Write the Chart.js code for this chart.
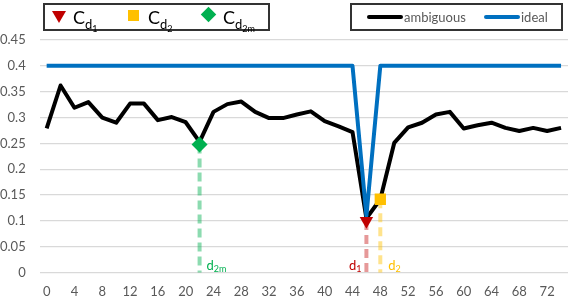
<!DOCTYPE html>
<html><head><meta charset="utf-8">
<script src="https://cdn.jsdelivr.net/npm/chart.js@4/dist/chart.umd.min.js"></script>
<style>
html,body{margin:0;padding:0;background:#fff;}
#wrap{position:relative;width:570px;height:296px;overflow:hidden;font-family:Lato,"Open Sans",sans-serif;}
canvas{position:absolute;left:0;top:0;}
.box{position:absolute;border:2px solid #333;background:#fff;box-sizing:border-box;}
.lg{position:absolute;white-space:nowrap;color:#000;}
.C{font-size:18px;line-height:18px;}
.C .s1{font-size:13px;vertical-align:-5px;}
.C .s2{font-size:9px;vertical-align:-3px;}
.amb{font-size:13px;color:#595959;line-height:14px;}
</style></head>
<body><div id="wrap">
<canvas id="c" width="570" height="296"></canvas>
<div class="box" style="left:43px;top:3px;width:227px;height:28px;">
  <div style="position:absolute;left:7px;top:6px;width:0;height:0;border-left:7px solid transparent;border-right:7px solid transparent;border-top:12px solid #c00000;"></div>
  <div class="lg C" style="left:28px;top:3px;">C<span class="s1">d<span class="s2">1</span></span></div>
  <div style="position:absolute;left:83px;top:5px;width:11px;height:11px;background:#ffc000;"></div>
  <div class="lg C" style="left:103px;top:3px;">C<span class="s1">d<span class="s2">2</span></span></div>
  <div style="position:absolute;left:158px;top:4px;width:11px;height:11px;background:#00b050;transform:rotate(45deg);"></div>
  <div class="lg C" style="left:178px;top:3px;">C<span class="s1">d<span class="s2">2m</span></span></div>
</div>
<div class="box" style="left:350px;top:3px;width:213px;height:28px;">
  <div style="position:absolute;left:15px;top:10px;width:36px;height:4px;background:#000;border-radius:2px;"></div>
  <div class="lg amb" style="left:52px;top:5px;">ambiguous</div>
  <div style="position:absolute;left:132px;top:10px;width:36px;height:4px;background:#0070c0;border-radius:2px;"></div>
  <div class="lg amb" style="left:169px;top:5px;">ideal</div>
</div>
</div>
<script>
const xCats = ['0','2','4','6','8','10','12','14','16','18','20','22','24','26','28','30','32','34','36','38','40','42','44','46','48','50','52','54','56','58','60','62','64','66','68','70','72','74'];
const ambiguous = [0.279,0.362,0.319,0.330,0.300,0.290,0.327,0.327,0.295,0.301,0.291,0.253,0.311,0.326,0.331,0.311,0.299,0.299,0.306,0.312,0.293,0.283,0.272,0.105,0.142,0.251,0.281,0.290,0.306,0.311,0.279,0.285,0.290,0.280,0.274,0.280,0.274,0.280];
const ideal = [0.4,0.4,0.4,0.4,0.4,0.4,0.4,0.4,0.4,0.4,0.4,0.4,0.4,0.4,0.4,0.4,0.4,0.4,0.4,0.4,0.4,0.4,0.4,0.11,0.4,0.4,0.4,0.4,0.4,0.4,0.4,0.4,0.4,0.4,0.4,0.4,0.4,0.4];
const d1Cat = '46', d1Val = 0.1;
const d2Cat = '48', d2Val = 0.142;
const d2mCat = '22', d2mVal = 0.248;
const yTicks = [0,0.05,0.1,0.15,0.2,0.25,0.3,0.35,0.4,0.45];

const font = "Lato, 'Open Sans', sans-serif";
const labelPlugin = {
  id:'dlabels',
  afterDatasetsDraw(chart){
    const ctx = chart.ctx, xs = chart.scales.x, ys = chart.scales.y;
    const base = ys.getPixelForValue(0) - 3;
    function lab(cat, sub, color, dx, alignRight){
      const x = xs.getPixelForValue(xs.getLabels().indexOf(cat));
      ctx.save();
      ctx.fillStyle = color; ctx.textBaseline='alphabetic';
      ctx.font = "13px " + font;
      const w1 = ctx.measureText('d').width;
      ctx.font = "9px " + font;
      const w2 = ctx.measureText(sub).width;
      let sx = alignRight ? x + dx - w1 - w2 : x + dx;
      ctx.font = "13px " + font; ctx.fillText('d', sx, base);
      ctx.font = "9px " + font; ctx.fillText(sub, sx + w1, base + 2);
      ctx.restore();
    }
    lab(d2mCat,'2m','#00b050',7,false);
    lab(d1Cat,'1','#c00000',-5,true);
    lab(d2Cat,'2','#ffc000',8,false);
  }
};
function single(cat,val){ return xCats.map(c => c===cat ? val : null); }

new Chart(document.getElementById('c'), {
  type:'line',
  data:{
    labels:xCats,
    datasets:[
      {label:'Cd1', data:single(d1Cat,d1Val), showLine:false, pointStyle:'triangle', rotation:180, pointRadius:7.8, backgroundColor:'#c00000', borderWidth:0, pointBorderWidth:0},
      {label:'Cd2', data:single(d2Cat,d2Val), showLine:false, pointStyle:'rect', pointRadius:8, backgroundColor:'#ffc000', borderWidth:0, pointBorderWidth:0},
      {label:'Cd2m', data:single(d2mCat,d2mVal), showLine:false, pointStyle:'rectRot', pointRadius:8, backgroundColor:'#00b050', borderWidth:0, pointBorderWidth:0},
      {label:'ideal', data:ideal, borderColor:'#0070c0', borderWidth:4, pointRadius:0, tension:0, borderJoinStyle:'round', borderCapStyle:'butt'},
      {label:'ambiguous', data:ambiguous, borderColor:'#000', borderWidth:4, pointRadius:0, tension:0, borderJoinStyle:'round', borderCapStyle:'butt'},
      {label:'d2mLine', data:[{x:d2mCat,y:d2mVal},{x:d2mCat,y:0}], borderColor:'rgba(0,176,80,0.45)', borderWidth:4, borderDash:[9,5], pointRadius:0},
      {label:'d1Line', data:[{x:d1Cat,y:d1Val},{x:d1Cat,y:0}], borderColor:'rgba(192,0,0,0.4)', borderWidth:4, borderDash:[9,5], pointRadius:0},
      {label:'d2Line', data:[{x:d2Cat,y:d2Val},{x:d2Cat,y:0}], borderColor:'rgba(255,192,0,0.45)', borderWidth:4, borderDash:[9,5], pointRadius:0}
    ]
  },
  options:{
    responsive:false, animation:false,
    layout:{autoPadding:false, padding:{top:40,right:2,left:0,bottom:0}},
    plugins:{legend:{display:false}, tooltip:{enabled:false}},
    scales:{
      x:{type:'category', offset:true,
        grid:{display:false, drawTicks:true, tickLength:11, tickColor:'rgba(0,0,0,0)'},
        border:{display:false},
        ticks:{autoSkip:false, maxRotation:0, padding:0, color:'#595959', font:{family:font,size:13},
          callback:(v,i)=> i%2===0 ? xCats[i] : ''},
        afterFit:(s)=>{ s.height = 23.3; s.paddingRight = 0; s.paddingLeft = 0; }
      },
      y:{min:0,max:0.45,
        grid:{color:'#d9d9d9', lineWidth:1.3, drawTicks:false},
        border:{display:false},
        afterBuildTicks:(s)=>{ s.ticks = yTicks.map(v=>({value:v})); },
        ticks:{padding:14, color:'#595959', font:{family:font,size:13},
          callback:(v)=> String(+v.toFixed(2))},
        afterFit:(s)=>{ s.width = 39.7; }
      }
    }
  },
  plugins:[labelPlugin]
});
</script>
</body></html>
